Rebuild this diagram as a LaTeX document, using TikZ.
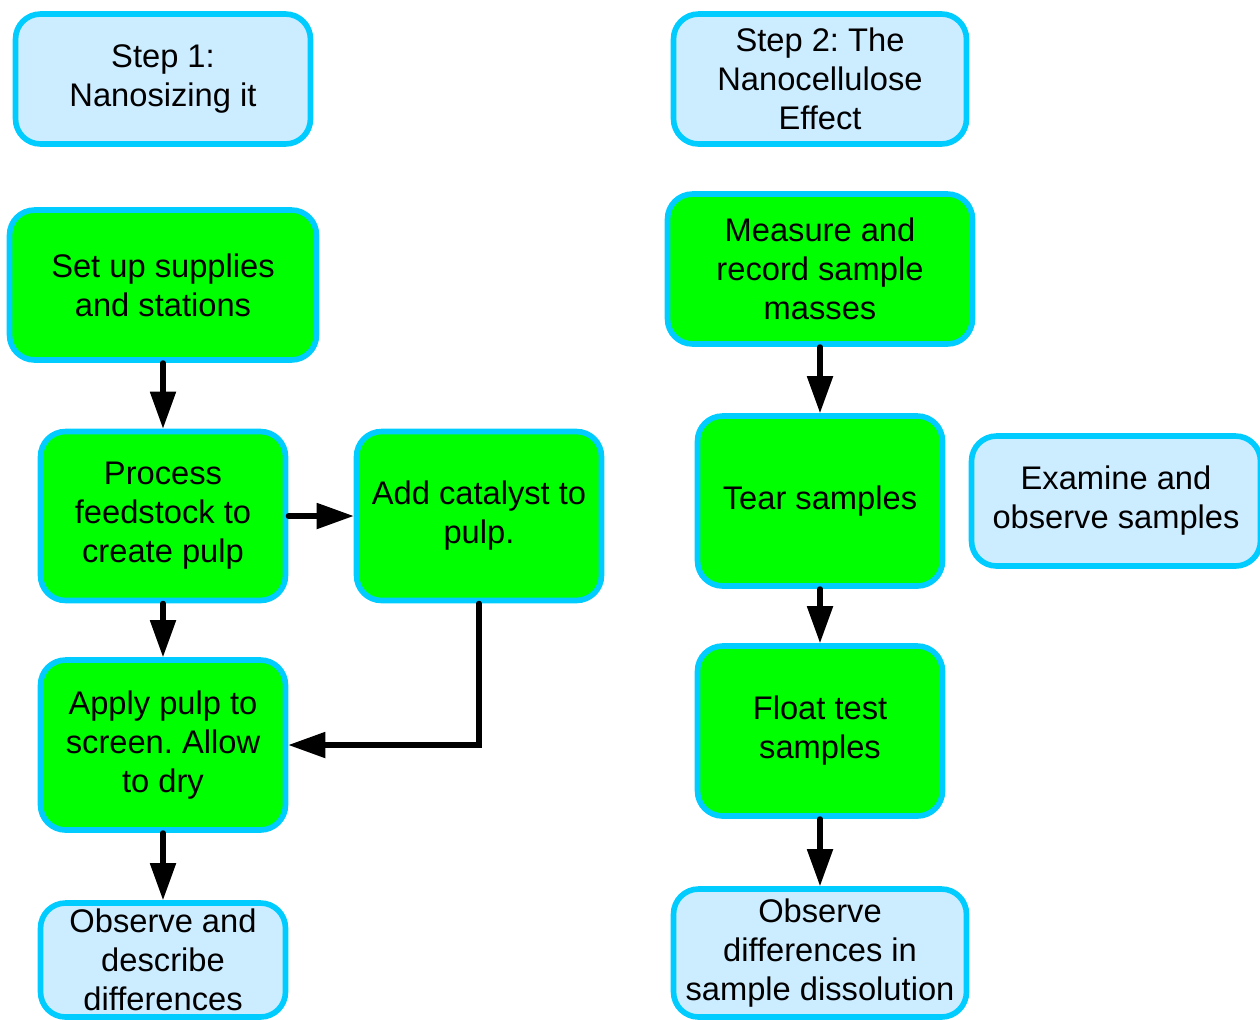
\documentclass[tikz,border=0pt]{standalone}
\usepackage{fontspec}
\setmainfont{Liberation Sans}
\usetikzlibrary{arrows.meta}
\definecolor{rimblue}{RGB}{0,204,255}
\definecolor{paleblue}{RGB}{204,236,255}
\definecolor{brightgreen}{RGB}{0,255,0}
\frenchspacing
\begin{document}
\begin{tikzpicture}[x=0.02cm,y=-0.02cm]
      \useasboundingbox (0,0) rectangle (1260,1019);
      \begin{scope}[every node/.style={rectangle,rounded corners=0.5cm,draw=rimblue,line width=3.2pt,align=center,inner sep=0pt,font=\fontsize{18.6}{22.2}\selectfont}]
        \node[fill=paleblue,minimum width=5.9cm,minimum height=2.6cm] (step1) at (163,79) {Step 1:\\Nanosizing it};
        \node[fill=paleblue,minimum width=5.86cm,minimum height=2.6cm] (step2) at (820,79) {Step 2: The\\Nanocellulose\\Effect};
        \node[fill=brightgreen,minimum width=6.14cm,minimum height=3.0cm] (setup) at (163,285) {Set up supplies\\and stations};
        \node[fill=brightgreen,minimum width=4.9cm,minimum height=3.38cm] (process) at (163,516) {Process\\feedstock to\\create pulp};
        \node[fill=brightgreen,minimum width=4.9cm,minimum height=3.38cm] (catalyst) at (479,516) {Add catalyst to\\pulp.};
        \node[fill=brightgreen,minimum width=4.9cm,minimum height=3.4cm] (apply) at (163,745) {Apply pulp to\\screen. Allow\\to dry};
        \node[fill=paleblue,minimum width=4.9cm,minimum height=2.28cm] (describe) at (163,960) {Observe and\\describe\\differences};
        \node[fill=brightgreen,minimum width=6.1cm,minimum height=3.0cm] (measure) at (820,269) {Measure and\\record sample\\masses};
        \node[fill=brightgreen,minimum width=4.9cm,minimum height=3.4cm] (tear) at (820,501) {Tear samples};
        \node[fill=paleblue,minimum width=5.78cm,minimum height=2.6cm] (examine) at (1116,501) {Examine and\\observe samples};
        \node[fill=brightgreen,minimum width=4.9cm,minimum height=3.4cm] (float) at (820,731) {Float test\\samples};
        \node[fill=paleblue,minimum width=5.86cm,minimum height=2.56cm] (dissolve) at (820,953) {Observe\\differences in\\sample dissolution};
      \end{scope}
      \begin{scope}[every edge/.style={draw=black,line width=2.9pt,line cap=round,-{Triangle[length=0.74cm,width=0.5cm]}}]
        \path (setup) edge (process);
        \path (process) edge (catalyst);
        \path (process) edge (apply);
        \path (catalyst.south) edge[to path={|- (\tikztotarget)}] (apply.east);
        \path (apply) edge (describe);
        \path (measure) edge (tear);
        \path (tear) edge (float);
        \path (float) edge (dissolve);
      \end{scope}
    \end{tikzpicture}
\end{document}
